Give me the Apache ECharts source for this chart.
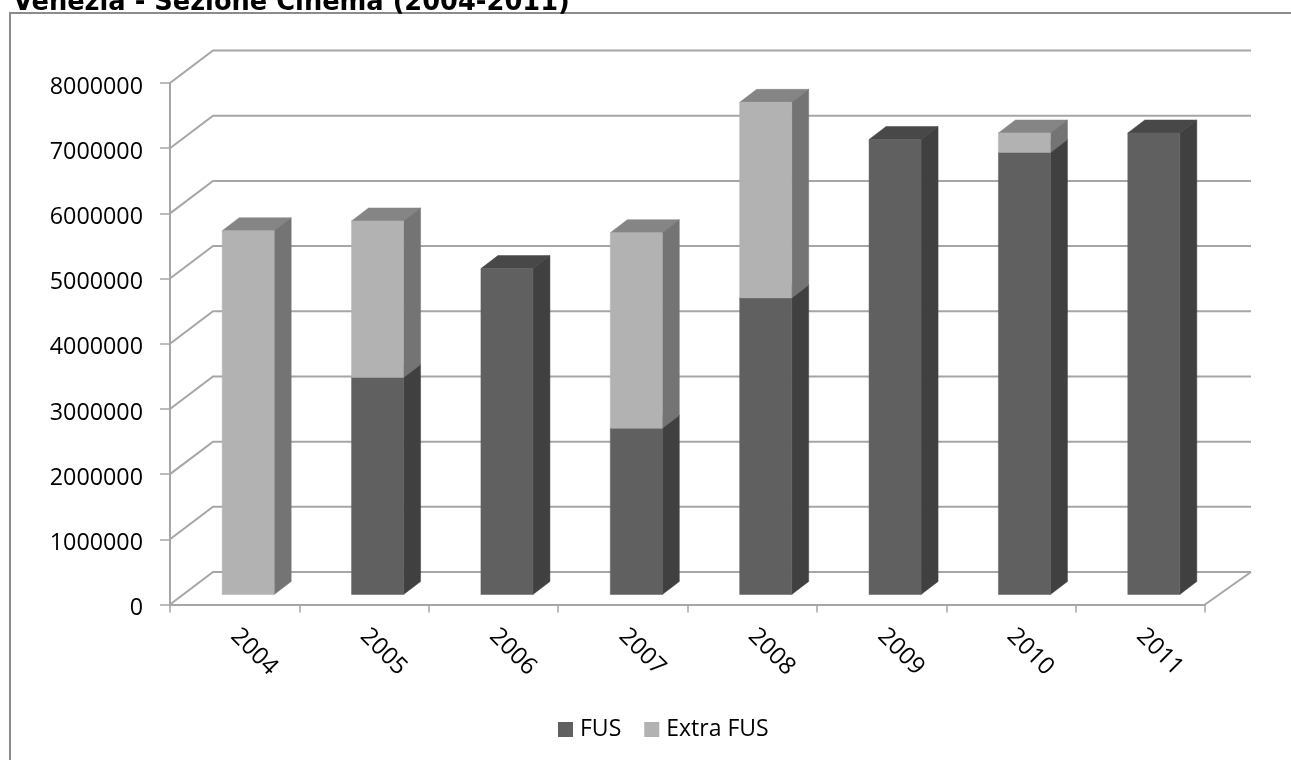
<!DOCTYPE html>
<html><head><meta charset="utf-8">
<style>html,body{margin:0;padding:0;background:#fff}#c{width:1291px;height:760px}</style>
<script src="https://cdn.jsdelivr.net/npm/echarts@6/dist/echarts.min.js"></script>
</head><body><div id="c"></div>
<script>
const titleText = 'Venezia - Sezione Cinema (2004-2011)';
const years = ['2004','2005','2006','2007','2008','2009','2010','2011'];
const fus = [0,3330000,5000000,2550000,4550000,6980000,6780000,7080000];
const extraFus = [5580000,2400000,0,3000000,3000000,0,300000,0];
const gridTicks = [0,1000000,2000000,3000000,4000000,5000000,6000000,7000000,8000000];

const GRID = '#a6a6a6';
const chart = echarts.init(document.getElementById('c'), null, {renderer:'canvas'});

function poly(points, fill){
  return {type:'polygon', shape:{points}, style:{fill, stroke:fill, lineWidth:0.5}};
}
function barRenderer(front, side, top, baseOf){
  return function(params, api){
    const i = api.value(0), v = api.value(1);
    if(!v) return {type:'group', children:[]};
    const b = baseOf[i];
    const p0 = api.coord([i, b]), p1 = api.coord([i, b + v]);
    const w = api.size([1,0])[0] * 0.402;
    const ox = 13.5, oy = -10, dx = 17, dy = -13;
    const l = p0[0] + ox - w/2, r = l + w;
    const yb = p0[1] + oy, yt = p1[1] + oy;
    return {type:'group', children:[
      poly([[l,yt],[r,yt],[r+dx,yt+dy],[l+dx,yt+dy]], top),
      poly([[r,yb],[r+dx,yb+dy],[r+dx,yt+dy],[r,yt]], side),
      poly([[l,yb],[r,yb],[r,yt],[l,yt]], front)
    ]};
  };
}
const zeros = years.map(()=>0);
chart.setOption({
  animation:false,
  backgroundColor:'#fff',
  title:{text:titleText,left:8,top:-15,textStyle:{fontFamily:'DejaVu Sans',fontWeight:'bold',fontSize:25.7,color:'#000'}},
  legend:{
    data:[{name:'FUS',icon:'rect'},{name:'Extra FUS',icon:'rect'}],
    left:558,top:718,padding:0,itemWidth:15,itemHeight:15,itemGap:23,
    textStyle:{fontFamily:'Open Sans',fontSize:23,lineHeight:23,color:'#000',padding:[0,0,0,2]}
  },
  grid:{left:170,top:83,width:1035,height:521.5,containLabel:false},
  xAxis:{type:'category',data:years,
    axisLine:{lineStyle:{color:GRID,width:2}},
    axisTick:{show:true,alignWithLabel:false,length:8,lineStyle:{color:GRID,width:1.5}},
    axisLabel:{rotate:-45,fontFamily:'Open Sans',fontSize:24,color:'#000',margin:28,interval:0},
    splitLine:{show:false}},
  yAxis:{type:'value',min:0,max:8000000,interval:1000000,
    axisLine:{show:true,lineStyle:{color:GRID,width:2}},
    axisTick:{show:true,length:10,lineStyle:{color:GRID,width:1.5}},
    axisLabel:{margin:27,formatter:v=>'{a|'+v+'}',
      rich:{a:{fontFamily:'Open Sans',fontSize:23.3,color:'#000',padding:[8,0,0,0]}}},
    splitLine:{show:false}},
  series:[
    {type:'custom',name:'wall',silent:true,clip:false,z:1,
      data:gridTicks.map(v=>[0,v]),
      renderItem(params,api){
        const v=api.value(1), y=api.coord([0,v])[1], cs=params.coordSys;
        const children=[{type:'polyline',shape:{points:[[cs.x,y],[cs.x+43,y-32.5],[cs.x+cs.width+46,y-32.5]]},
          style:{fill:null,stroke:GRID,lineWidth:2}}];
        if(v===0) children.push({type:'line',shape:{x1:cs.x+cs.width,y1:y,x2:cs.x+cs.width+46,y2:y-32.5},style:{stroke:GRID,lineWidth:2}});
        return {type:'group',children};
      },
      encode:{x:0,y:1}},
    {type:'custom',name:'FUS',z:3,clip:false,itemStyle:{color:'#606060'},
      data:fus.map((v,i)=>[i,v]),encode:{x:0,y:1},
      renderItem:barRenderer('#606060','#404040','#484848',zeros)},
    {type:'custom',name:'Extra FUS',z:4,clip:false,itemStyle:{color:'#b2b2b2'},
      data:extraFus.map((v,i)=>[i,v]),encode:{x:0,y:1},
      renderItem:barRenderer('#b2b2b2','#747474','#858585',fus)}
  ],
  graphic:[{type:'rect',z:0,silent:true,shape:{x:10,y:13,width:1300,height:800},style:{fill:null,stroke:'#8c8c8c',lineWidth:2}}]
});
</script></body></html>
